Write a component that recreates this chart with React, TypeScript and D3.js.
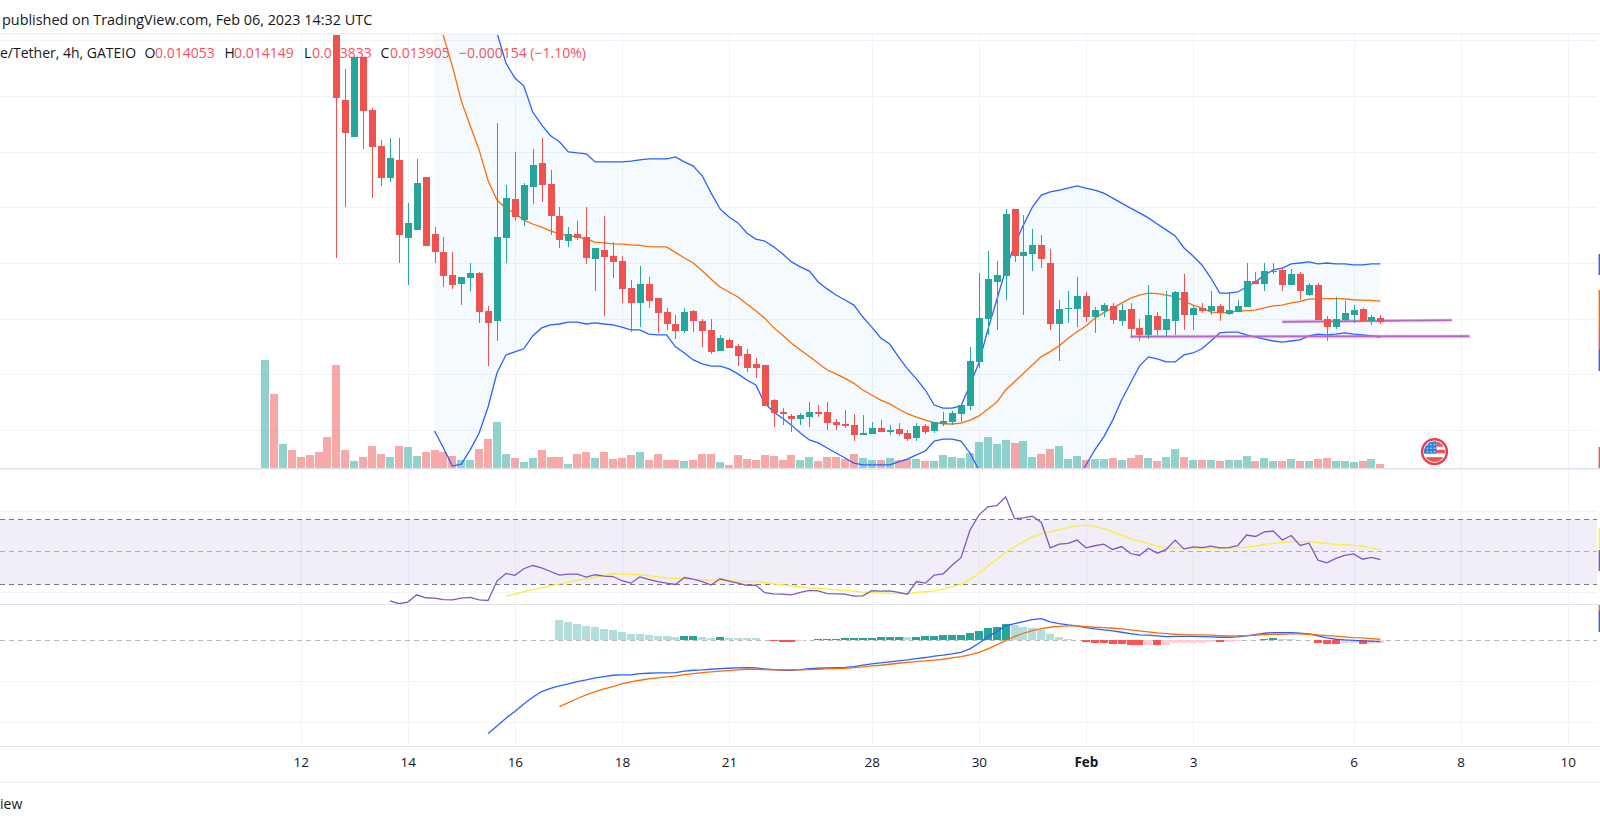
import React, { useEffect, useRef } from "react";
import * as d3 from "d3";

// prices are in units of 0.00001, candles start at bar 8 (older ones are above the top of the chart)
const candleStart = 8;
const opens = [
  2457, 2187, 2055, 2342, 2151, 2022, 1907, 1972, 1692, 1721, 1911, 1707, 1642, 1559, 1527, 1548, 1566, 1430, 1394, 1692,
  1832, 1756, 1875, 1961, 1886, 1771, 1681, 1707, 1696, 1616, 1649, 1627, 1609, 1512, 1458, 1527, 1476, 1426, 1383, 1358,
  1430, 1394, 1362, 1286, 1326, 1304, 1276, 1240, 1236, 1110, 1067, 1053, 1042, 1049, 1067, 1067, 1031, 1024, 1020, 985,
  989, 1010, 996, 1006, 992, 974, 1017, 999, 1024, 1031, 1060, 1089, 1247, 1401, 1534, 1556, 1796, 1627, 1635, 1667,
  1602, 1383, 1437, 1437, 1484, 1408, 1430, 1448, 1394, 1437, 1369, 1344, 1412, 1362, 1394, 1498, 1415, 1440, 1430, 1448,
  1419, 1426, 1444, 1538, 1527, 1570, 1577, 1523, 1563, 1487, 1523, 1401, 1372, 1398, 1415, 1437, 1394, 1405,
];
const highs = [
  2475, 2299, 2342, 2342, 2158, 2044, 2051, 2051, 1817, 1976, 1911, 1731, 1696, 1642, 1552, 1602, 1570, 1448, 2105, 1882,
  2001, 1889, 2012, 2051, 1936, 1803, 1731, 1753, 1803, 1656, 1771, 1678, 1627, 1541, 1591, 1552, 1476, 1440, 1415, 1440,
  1433, 1401, 1401, 1344, 1333, 1311, 1294, 1261, 1236, 1114, 1081, 1060, 1063, 1103, 1092, 1103, 1042, 1074, 1060, 1056,
  1031, 1038, 1020, 1027, 1003, 1027, 1024, 1031, 1067, 1071, 1092, 1301, 1566, 1645, 1609, 1796, 1796, 1774, 1724, 1703,
  1653, 1469, 1502, 1552, 1498, 1444, 1458, 1458, 1455, 1458, 1401, 1523, 1426, 1502, 1502, 1563, 1451, 1458, 1502, 1455,
  1498, 1469, 1602, 1570, 1602, 1602, 1584, 1581, 1570, 1530, 1530, 1412, 1480, 1465, 1451, 1440, 1415, 1415,
];
const lows = [
  1620, 1803, 2055, 2012, 1835, 1879, 1893, 1602, 1523, 1721, 1663, 1602, 1516, 1509, 1451, 1502, 1387, 1232, 1322, 1602,
  1753, 1735, 1814, 1821, 1703, 1656, 1660, 1685, 1599, 1502, 1412, 1548, 1458, 1354, 1372, 1440, 1351, 1362, 1329, 1351,
  1354, 1301, 1276, 1286, 1297, 1232, 1211, 1189, 1089, 1013, 1020, 996, 1020, 1013, 1049, 1003, 1003, 1010, 963, 985,
  989, 996, 985, 981, 963, 963, 989, 992, 1017, 1020, 1031, 1074, 1225, 1344, 1362, 1469, 1606, 1415, 1573, 1584,
  1362, 1250, 1387, 1372, 1390, 1351, 1408, 1383, 1376, 1333, 1322, 1329, 1344, 1340, 1344, 1362, 1362, 1422, 1415, 1394,
  1415, 1426, 1444, 1527, 1502, 1563, 1502, 1523, 1469, 1484, 1398, 1322, 1365, 1390, 1387, 1394, 1380, 1383,
];
const closes = [
  2195, 2069, 2342, 2148, 2019, 1907, 1979, 1703, 1746, 1889, 1663, 1642, 1556, 1523, 1552, 1566, 1426, 1387, 1696, 1835,
  1767, 1882, 1954, 1882, 1771, 1685, 1707, 1692, 1620, 1656, 1624, 1606, 1509, 1458, 1527, 1465, 1422, 1383, 1358, 1426,
  1394, 1358, 1283, 1333, 1297, 1268, 1225, 1225, 1089, 1063, 1060, 1042, 1056, 1067, 1060, 1027, 1020, 1017, 985, 992,
  1010, 996, 1003, 989, 970, 1017, 996, 1031, 1035, 1063, 1092, 1250, 1405, 1545, 1559, 1778, 1627, 1642, 1667, 1616,
  1383, 1437, 1440, 1484, 1408, 1433, 1451, 1398, 1433, 1365, 1344, 1415, 1362, 1401, 1498, 1415, 1440, 1430, 1448, 1426,
  1433, 1448, 1538, 1527, 1573, 1573, 1523, 1563, 1502, 1523, 1398, 1372, 1401, 1422, 1433, 1394, 1408, 1391,
];

const volumes = [
  108, 74, 24, 18, 11, 13, 16, 31, 103, 18, 7, 11, 22, 14, 11, 22, 21, 12, 16, 18, 16, 12, 8, 8, 19, 29, 46, 14, 10, 6,
  10, 18, 11, 11, 4, 14, 16, 10, 16, 9, 10, 13, 16, 8, 14, 8, 8, 7, 8, 14, 14, 6, 3, 13, 9, 8, 13, 12, 8, 13,
  8, 11, 7, 11, 11, 9, 14, 10, 8, 8, 10, 8, 9, 9, 7, 7, 13, 11, 10, 15, 26, 31, 24, 28, 25, 27, 11, 14, 19, 22,
  9, 12, 8, 9, 9, 10, 8, 10, 13, 10, 7, 11, 19, 11, 8, 8, 8, 7, 8, 8, 12, 7, 10, 7, 7, 9, 7, 7, 9, 10,
  7, 7, 6, 7, 9, 4,
];
// direction of the first volume bars, their candles are out of view
const leadUp = [true, false, true, false, false, false, false, false];

// Bollinger bands, from bar 19
const bbStart = 19;
const bbUpper = [
  4021, 3896, 3745, 3488, 3257, 3024, 2709, 2428, 2320, 2266, 2238, 2144, 2098, 2059, 2037, 2001, 1997, 1994, 1965, 1965,
  1965, 1965, 1968, 1972, 1976, 1976, 1976, 1983, 1965, 1950, 1915, 1853, 1796, 1767, 1746, 1710, 1688, 1681, 1660, 1635,
  1606, 1588, 1573, 1534, 1509, 1487, 1469, 1451, 1408, 1372, 1333, 1311, 1265, 1222, 1186, 1146, 1092, 1081, 1081, 1089,
  1164, 1243, 1362, 1469, 1577, 1667, 1739, 1803, 1846, 1857, 1864, 1871, 1879, 1871, 1864, 1853, 1835, 1817, 1799, 1782,
  1764, 1742, 1721, 1699, 1656, 1627, 1595, 1548, 1494, 1494, 1498, 1516, 1534, 1559, 1577, 1584, 1599, 1602, 1606, 1599,
  1602, 1599, 1599, 1595, 1595, 1599, 1599,
];
const bbBasis = [
  2510, 2417, 2309, 2184, 2094, 2008, 1897, 1828, 1799, 1781, 1756, 1742, 1731, 1717, 1707, 1699, 1697, 1688, 1677, 1674,
  1671, 1670, 1667, 1665, 1661, 1660, 1660, 1640, 1620, 1602, 1574, 1544, 1516, 1498, 1480, 1455, 1431, 1404, 1370, 1343,
  1314, 1290, 1266, 1242, 1218, 1204, 1188, 1170, 1146, 1128, 1110, 1096, 1078, 1061, 1049, 1038, 1029, 1025, 1024, 1027,
  1038, 1053, 1077, 1102, 1146, 1176, 1206, 1236, 1266, 1284, 1305, 1332, 1355, 1376, 1404, 1424, 1440, 1458, 1476, 1487,
  1494, 1492, 1487, 1481, 1465, 1451, 1440, 1426, 1424, 1425, 1429, 1431, 1433, 1441, 1448, 1451, 1459, 1464, 1472, 1473,
  1474, 1474, 1473, 1470, 1469, 1468, 1465,
];
const bbLower = [
  999, 938, 873, 880, 931, 992, 1085, 1207, 1272, 1283, 1294, 1340, 1369, 1380, 1383, 1390, 1390, 1383, 1387, 1383,
  1380, 1372, 1362, 1362, 1347, 1344, 1344, 1301, 1279, 1254, 1240, 1232, 1232, 1222, 1204, 1182, 1164, 1099, 1067, 1045,
  1020, 992, 967, 956, 938, 920, 902, 884, 877, 877, 877, 877, 888, 898, 913, 927, 963, 970, 970, 963,
  920, 859, 769, 715, 697, 697, 697, 697, 715, 715, 751, 787, 823, 877, 931, 978, 1038, 1110, 1171, 1232,
  1265, 1258, 1247, 1247, 1272, 1279, 1294, 1322, 1351, 1354, 1354, 1344, 1336, 1329, 1322, 1318, 1322, 1326, 1340, 1347,
  1344, 1347, 1351, 1347, 1344, 1340, 1336,
];

// the two drawn support lines: [bar, price, bar, price]
const supportLines = [
  [114, 1391, 133, 1397],
  [97, 1338, 135, 1339],
];

const rsiStart = 14;
const rsiValues = [
  19.8, 18, 19, 23.5, 21.7, 21.5, 20.6, 20.4, 21.5, 21.9, 20.4, 20, 32, 36.7, 35.5, 39.6, 41.6, 40.2, 37.9, 35.7,
  36.3, 36.3, 34.4, 35.9, 35, 34.8, 32.2, 30.7, 34.6, 33, 31.7, 30.7, 29.9, 34.2, 33.2, 31.7, 29.5, 33.4, 32, 30.7,
  29.3, 29.5, 24.8, 24.1, 23.9, 23.5, 25, 26.2, 26, 24.3, 24.1, 23.9, 22.7, 22.9, 26, 25.8, 26, 25, 23.9, 31.7,
  30.7, 35.7, 36.5, 41.8, 46.4, 63.4, 72.7, 77.8, 78.5, 84, 70.6, 71, 72.1, 68.2, 52.5, 54.8, 55.2, 57.3, 52.5, 53.8,
  54.8, 51.5, 53.3, 49, 47.8, 52.3, 49.2, 51.5, 57.3, 51.7, 53.1, 52.7, 53.6, 52.5, 52.7, 53.8, 60.4, 59.5, 62.4, 62.8,
  57.3, 60.1, 54, 55.4, 44.9, 43.3, 46, 47.8, 48.8, 45.5, 46.6, 45.3,
];
const rsiMaStart = 27;
const rsiMa = [
  22.7, 23.9, 25.4, 26.8, 27.8, 29.1, 30.3, 31.3, 32.4, 33.4, 34.4, 35.5, 36.5, 36.3, 36.1, 35.9, 35.2, 34.6, 34, 33.6,
  33.4, 33, 32.8, 32.6, 32.4, 32.2, 32, 31.7, 31.7, 31.1, 30.3, 29.7, 29.1, 28.5, 27.8, 27.4, 27, 26.6, 26.2, 25.8,
  25.2, 24.8, 24.5, 24.5, 24.3, 24.3, 25, 25.4, 26, 27, 28.5, 30.1, 33, 36.7, 41.2, 45.5, 49.6, 53.2, 56.2, 59.3,
  61.2, 62.4, 63.6, 65.1, 66.1, 66.5, 65.7, 64.3, 62.4, 60.4, 58.1, 56.6, 55.2, 53.6, 52.5, 52.7, 52.5, 52.5, 52.3, 52.3,
  52.3, 52.3, 52.5, 52.9, 53.6, 54.6, 55.2, 55.8, 56.4, 56.4, 56.4, 55.8, 55.2, 54.6, 54.4, 54, 53.4, 52.3, 51.5,
];

// MACD values are in units of 0.00001
const macdStart = 25;
const macdLine = [
  -113.8, -104.4, -95, -86.9, -77.6, -69.4, -62.5, -58.5, -55.6, -53.2, -50.3, -48.3, -45.9, -44.2, -42.6, -42.2, -42.2, -40.6, -40.2, -39.8,
  -39.8, -39.4, -37.7, -36.5, -36.1, -35.3, -34.5, -34.1, -33.7, -33.3, -33.7, -34.9, -35.7, -36.5, -36.5, -35.7, -34.5, -34.1, -33.7, -33.3,
  -32.9, -32, -30.4, -28.8, -27.6, -26.4, -25.1, -23.9, -22.3, -21, -19.4, -18.2, -16.6, -14.6, -10.5, -3.6, 4.5, 10.6, 17.6, 20.4,
  22.8, 25.3, 26.5, 22.4, 20.4, 18.8, 17.6, 15.5, 13.9, 12.7, 11.5, 9.8, 8.2, 6.6, 6.2, 5.4, 4.5, 4.9, 4.9, 4.9,
  4.5, 4.1, 3.7, 3.7, 4.1, 5.4, 7, 8.6, 9.4, 9.4, 9.4, 8.6, 7.8, 5.4, 2.9, 1.3, 0.5, 0, -0.7, -1.1, -1.6,
];
const signalStart = 33;
const signalLine = [
  -80.8, -75.9, -71, -66.6, -62.5, -59.3, -56.4, -52.8, -50.7, -48.7, -47.1, -45.9, -44.6, -43.4, -41.8, -40.6, -39.4, -38.5, -37.7, -36.9,
  -36.1, -35.3, -35.3, -35.7, -36.1, -36.1, -36.1, -36.1, -35.7, -35.3, -34.9, -34.5, -34.1, -33.3, -32.4, -31.2, -30.4, -29.2, -28, -26.8,
  -26, -25.1, -24.3, -23.1, -21.5, -19.9, -17.8, -14.6, -10.5, -5.6, -0.3, 4.5, 8.6, 11.9, 14.3, 15.9, 17.1, 17.6, 17.6, 16.7,
  15.9, 15.5, 14.7, 13.9, 12.7, 11.5, 10.2, 9, 8.2, 7.4, 7, 6.6, 6.6, 6.2, 5.8, 5.4, 5.4, 5.8, 6.2, 7,
  7.4, 7.4, 7.8, 7.8, 7.4, 6.6, 5.8, 5, 4.1, 3.3, 2.9, 2.1, 1.3,
];
const histStart = 33;
const histValues = [
  24.8, 22.4, 19.9, 17.5, 16.3, 13.8, 12.6, 10.2, 7.7, 7.6, 6.5, 5.3, 5.2, 4.1, 4.8, 5, 4.1, 2.9, 4.2, 2.9,
  2.8, 2.7, 2.6, 0.5, -0.8, -1.6, -1.7, -0.7, 0.4, 1.4, 1.5, 1.6, 2.6, 2.7, 2.8, 2.9, 4.1, 4.2, 4.3, 4,
  4.2, 5.3, 5.4, 6.5, 6.6, 6.7, 8.9, 11.4, 15, 16.3, 20, 18.7, 16.3, 15, 12.6, 7.7, 4.1, 1.6, 0.4, -2.4,
  -3.3, -3.4, -4.5, -4.6, -5.7, -5.8, -5.6, -5.9, -5.7, -3.3, -3.2, -3.1, -3, -2, -2.1, -2, -1.2, 0.4, 0.8, 1.6,
  2.8, 1.6, 1.2, 0.4, 0.3, -3.3, -4.1, -4.2, -3.7, -3.6, -4, -3.9, -3.7,
];

const tickBars = [4, 16, 28, 40, 52, 68, 80, 92, 104, 122, 134, 146];
const tickLabels = ["12", "14", "16", "18", "21", "28", "30", "Feb", "3", "6", "8", "10"];
const priceGrid = [2400, 2200, 2000, 1800, 1600, 1400, 1200, 1000];
const rsiGrid = [25, 75];
const macdGrid = [-50, -100];

const legendParts = [
  { text: "O", x: 144.5, red: false },
  { text: "0.014053", x: 155, red: true },
  { text: "H", x: 224.5, red: false },
  { text: "0.014149", x: 234, red: true },
  { text: "L", x: 304, red: false },
  { text: "0.013833", x: 312, red: true },
  { text: "C", x: 380.5, red: false },
  { text: "0.013905", x: 390, red: true },
  { text: "−0.000154 (−1.10%)", x: 459, red: true },
];

// cut-off last value labels at the right edge: [y0, y1, colour]
const edgeMarks: [number, number, string][] = [
  [254, 275, "#2962ff"],
  [290, 329, "#ff6d00"],
  [329, 350, "#ef5350"],
  [350, 371, "#2962ff"],
  [447, 468, "#ef5350"],
  [528, 549, "#ffeb3b"],
  [550, 571, "#7e57c2"],
  [605, 611, "#ff6d00"],
  [611, 632, "#2962ff"],
];

// white stars on the badge's blue corner: [x, y]
const flagStars = [[-7, -7], [-3.5, -7], [0, -7], [-7, -3.5], [-3.5, -3.5], [0, -3.5], [-7, 0], [-3.5, 0], [0, 0]];

const UP = "#26a69a";
const DOWN = "#ef5350";
const GRID = "#f0f3fa";
const FONT = "'Open Sans', sans-serif";

const App = () => {
  const ref = useRef(null);

  useEffect(() => {
    const svg = d3.select(ref.current as any);
    svg.selectAll("*").remove();

    const width = 1600;
    const right = 1597;
    const x = d3.scaleLinear().domain([0, 125]).range([265, 1380.4]);
    const y = d3.scaleLinear().domain([1000, 2400]).range([430.7, 40.7]);
    const yVol = d3.scaleLinear().domain([0, 100]).range([468.3, 368.3]);
    const yRsi = d3.scaleLinear().domain([30, 70]).range([584.3, 519.5]);
    const yMacd = d3.scaleLinear().domain([-100, 100]).range([722.3, 558.3]);

    // canvas charts sit on whole pixels
    const px = (v: number) => Math.round(v);
    const crisp = (v: number) => Math.floor(v) + 0.5;

    const defs = svg.append("defs");
    const addClip = (id: string, y0: number, y1: number) =>
      defs.append("clipPath").attr("id", id).append("rect").attr("x", 0).attr("y", y0).attr("width", right).attr("height", y1 - y0);
    addClip("main", 35, 468);
    addClip("rsi", 469, 604);
    addClip("macd", 605, 746);

    // vertical grid
    svg.append("g").selectAll("line").data(tickBars).join("line")
      .attr("x1", (d) => px(x(d)) + 0.5).attr("x2", (d) => px(x(d)) + 0.5)
      .attr("y1", 35).attr("y2", 746)
      .attr("stroke", GRID).attr("stroke-width", 1);

    // horizontal grid
    const hGrid = svg.append("g").attr("stroke", GRID);
    const hLine = (v: number) => hGrid.append("line").attr("x1", 0).attr("x2", right).attr("y1", crisp(v)).attr("y2", crisp(v));
    priceGrid.forEach((p) => hLine(y(p)));
    rsiGrid.forEach((p) => hLine(yRsi(p)));
    macdGrid.forEach((p) => hLine(yMacd(p)));

    // legend text sits under the series
    const legend = svg.append("g").attr("font-family", FONT).attr("font-size", 14);
    legend.append("text").attr("x", 0).attr("y", 58).attr("fill", "#131722").text("e/Tether, 4h, GATEIO");
    legend.selectAll("text.part").data(legendParts).join("text")
      .attr("class", "part")
      .attr("x", (d) => d.x).attr("y", 58)
      .attr("fill", (d) => (d.red ? "#f7525f" : "#131722"))
      .text((d) => d.text);

    // main pane
    const main = svg.append("g").attr("clip-path", "url(#main)");
    const bars = d3.range(volumes.length);

    const band = d3.area<number>()
      .x((_, i) => x(i + bbStart))
      .y0((d) => y(d))
      .y1((_, i) => y(bbUpper[i]));
    main.append("path").attr("d", band(bbLower)).attr("fill", "#2196f3").attr("fill-opacity", 0.05);

    const isUp = (bar: number) =>
      bar < candleStart ? leadUp[bar] : closes[bar - candleStart] >= opens[bar - candleStart];

    main.append("g").selectAll("rect").data(bars).join("rect")
      .attr("x", (d) => px(x(d)) - 4)
      .attr("width", 8)
      .attr("y", (d) => px(yVol(volumes[d])))
      .attr("height", (d) => 468 - px(yVol(volumes[d])))
      .attr("fill", (d) => (isUp(d) ? UP : DOWN))
      .attr("fill-opacity", 0.5);

    const seriesLine = (start: number, yScale: any) =>
      d3.line<number>().x((_, i) => x(i + start)).y((d) => yScale(d));

    const drawLine = (g: any, values: number[], start: number, yScale: any, color: string, w = 1.3) =>
      g.append("path")
        .attr("d", seriesLine(start, yScale)(values))
        .attr("fill", "none")
        .attr("stroke", color)
        .attr("stroke-width", w);

    drawLine(main, bbUpper, bbStart, y, "#2962ff");
    drawLine(main, bbLower, bbStart, y, "#2962ff");
    drawLine(main, bbBasis, bbStart, y, "#ff6d00");

    // drawn support lines
    supportLines.forEach(([b0, p0, b1, p1]) => {
      [{ w: 3.4, o: 0.3 }, { w: 1.8, o: 1 }].forEach(({ w, o }) => {
        main.append("line")
          .attr("x1", x(b0)).attr("y1", y(p0)).attr("x2", x(b1)).attr("y2", y(p1))
          .attr("stroke", "#ba68c8").attr("stroke-width", w).attr("stroke-opacity", o);
      });
    });

    // candles
    const candles = main.append("g").selectAll("g").data(opens).join("g")
      .attr("fill", (d, i) => (closes[i] >= d ? UP : DOWN));
    candles.append("rect")
      .attr("x", (_, i) => px(x(i + candleStart)))
      .attr("width", 1)
      .attr("y", (_, i) => px(y(highs[i])))
      .attr("height", (_, i) => px(y(lows[i])) - px(y(highs[i])));
    candles.append("rect")
      .attr("x", (_, i) => px(x(i + candleStart)) - 3)
      .attr("width", 7)
      .attr("y", (d, i) => px(y(Math.max(d, closes[i]))))
      .attr("height", (d, i) => Math.max(1, px(y(Math.min(d, closes[i]))) - px(y(Math.max(d, closes[i])))));

    // RSI pane
    const rsi = svg.append("g").attr("clip-path", "url(#rsi)");
    rsi.append("rect")
      .attr("x", 0).attr("width", right)
      .attr("y", yRsi(70)).attr("height", yRsi(30) - yRsi(70))
      .attr("fill", "#7e57c2").attr("fill-opacity", 0.1);
    [{ v: 70, o: 1 }, { v: 50, o: 0.55 }, { v: 30, o: 1 }].forEach(({ v, o }) => {
      rsi.append("line")
        .attr("x1", 0).attr("x2", right).attr("y1", crisp(yRsi(v))).attr("y2", crisp(yRsi(v)))
        .attr("stroke", "#787b86").attr("stroke-opacity", o).attr("stroke-dasharray", "5 4");
    });
    drawLine(rsi, rsiMa, rsiMaStart, yRsi, "#ffeb3b");
    drawLine(rsi, rsiValues, rsiStart, yRsi, "#7e57c2");

    // MACD pane
    const macd = svg.append("g").attr("clip-path", "url(#macd)");
    macd.append("line")
      .attr("x1", 0).attr("x2", right).attr("y1", crisp(yMacd(0))).attr("y2", crisp(yMacd(0)))
      .attr("stroke", "#787b86").attr("stroke-opacity", 0.55).attr("stroke-dasharray", "5 4");
    const histColor = (v: number, i: number) => {
      const rising = i > 0 ? v >= histValues[i - 1] : false;
      if (v >= 0) return rising ? "#26a69a" : "#b2dfdb";
      return rising ? "#ffcdd2" : "#ff5252";
    };
    macd.append("g").selectAll("rect").data(histValues).join("rect")
      .attr("x", (_, i) => px(x(i + histStart)) - 4)
      .attr("width", 8)
      .attr("y", (d) => Math.min(px(yMacd(d)), px(yMacd(0))))
      .attr("height", (d) => Math.abs(px(yMacd(d)) - px(yMacd(0))))
      .attr("fill", histColor);
    drawLine(macd, macdLine, macdStart, yMacd, "#2962ff");
    drawLine(macd, signalLine, signalStart, yMacd, "#ff6d00");

    // pane separators and frame bands
    const frame = svg.append("g");
    [[33, 2, GRID], [468, 1.5, "#e0e3eb"], [604, 1, "#e0e3eb"], [746, 1, "#e0e3eb"], [781, 2, GRID]].forEach(([top, h, c]) => {
      frame.append("rect").attr("x", 0).attr("width", width).attr("y", top as number).attr("height", h as number).attr("fill", c as string);
    });
    frame.selectAll("rect.edge").data(edgeMarks).join("rect")
      .attr("class", "edge")
      .attr("x", 1598.6).attr("width", 1.4)
      .attr("y", (d) => d[0]).attr("height", (d) => d[1] - d[0])
      .attr("fill", (d) => d[2]);

    // time axis
    const axis = d3.axisBottom(x)
      .tickValues(tickBars)
      .tickSize(0)
      .tickPadding(0)
      .tickFormat((_, i) => tickLabels[i]);
    const axisG = svg.append("g").attr("transform", "translate(0,757.5)").call(axis as any);
    axisG.select(".domain").remove();
    axisG.selectAll("text")
      .attr("font-family", FONT)
      .attr("font-size", 13.5)
      .attr("fill", "#131722")
      .attr("font-weight", (_, i) => (tickLabels[i] === "Feb" ? 700 : 400));

    // header and footer
    svg.append("text")
      .attr("x", 2).attr("y", 25)
      .attr("font-family", FONT).attr("font-size", 14.4).attr("fill", "#131722")
      .text("published on TradingView.com, Feb 06, 2023 14:32 UTC");
    svg.append("text")
      .attr("x", 0).attr("y", 809)
      .attr("font-family", FONT).attr("font-size", 14).attr("fill", "#131722")
      .text("iew");

    // flag badge
    const flag = svg.append("g").attr("transform", "translate(1434.5,451.7)");
    const clip = defs.append("clipPath").attr("id", "flag");
    clip.append("circle").attr("r", 10.5);
    flag.append("circle").attr("r", 12.4).attr("fill", "#fff").attr("stroke", "#ef3b4d").attr("stroke-width", 2.4);
    const inner = flag.append("g").attr("clip-path", "url(#flag)");
    [[-2, 3.5], [5.5, 5]].forEach(([top, h]) => {
      inner.append("rect").attr("x", -11).attr("width", 22).attr("y", top).attr("height", h).attr("fill", "#ef5350");
    });
    inner.append("rect").attr("x", 2).attr("width", 9).attr("y", -11).attr("height", 6).attr("fill", "#ef5350");
    inner.append("rect").attr("x", -11).attr("width", 13).attr("y", -11).attr("height", 13).attr("fill", "#2f80e0");
    inner.selectAll("circle").data(flagStars).join("circle")
      .attr("cx", (d) => d[0]).attr("cy", (d) => d[1]).attr("r", 0.8).attr("fill", "#cfe3f7");
  }, []);

  return (
    <svg
      ref={ref}
      width={1600}
      height={825}
      style={{ position: "absolute", left: 0, top: 0, display: "block", background: "#fff" }}
    />
  );
};

export default App;
